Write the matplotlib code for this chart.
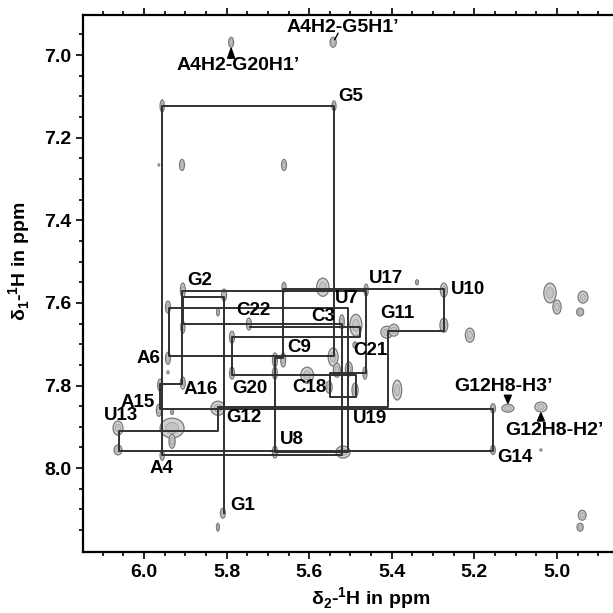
import matplotlib
matplotlib.use("Agg")
import matplotlib.pyplot as plt
from matplotlib.patches import Ellipse
from matplotlib.ticker import FixedLocator

plt.rcParams['font.family'] = ['Liberation Sans', 'DejaVu Sans']
plt.rcParams['font.weight'] = 'bold'
plt.rcParams['mathtext.fontset'] = 'custom'
plt.rcParams['mathtext.rm'] = 'Liberation Sans:bold'
plt.rcParams['mathtext.bf'] = 'Liberation Sans:bold'

# residue chemical shifts (H1' on x, H6/H8 on y), ppm
residues = ['G1', 'G2', 'C3', 'A4', 'G5', 'A6', 'U7', 'U8', 'C9', 'U10', 'G11',
            'G12', 'U13', 'G14', 'A15', 'A16', 'U17', 'C18', 'U19', 'G20', 'C21', 'C22']
h1p = [5.806, 5.906, 5.521, 5.956, 5.540, 5.939, 5.506, 5.683, 5.663, 5.274, 5.409,
       5.821, 6.061, 5.155, 5.961, 5.908, 5.462, 5.550, 5.487, 5.787, 5.477, 5.743]
h68 = [8.109, 7.586, 7.651, 7.969, 7.123, 7.729, 7.613, 7.961, 7.734, 7.567, 7.668,
       7.852, 7.910, 7.959, 7.857, 7.797, 7.571, 7.770, 7.828, 7.775, 7.683, 7.659]

# cross peaks: position and approximate extent (ppm)
peak_x = [5.789, 5.542, 5.956, 5.540, 5.908, 5.661, 5.964, 5.906, 5.806, 5.942, 5.821,
          5.746, 5.661, 5.567, 5.462, 5.339, 5.274, 5.017, 5.000, 4.937, 4.944, 5.274,
          5.412, 5.211, 5.465, 5.387, 5.155, 5.119, 5.039, 5.155, 5.039, 5.518, 4.939,
          4.944, 5.906, 5.787, 5.942, 5.942, 5.906, 5.787, 5.683, 5.663, 5.683, 5.605,
          5.961, 5.964, 5.932, 5.821, 6.063, 6.063, 5.932, 5.932, 5.956, 5.683, 5.809,
          5.821, 5.521, 5.487, 5.542, 5.533, 5.504, 5.552, 5.489, 5.489, 5.395]
peak_y = [6.969, 6.969, 7.123, 7.123, 7.266, 7.266, 7.266, 7.569, 7.581, 7.610, 7.622,
          7.651, 7.562, 7.562, 7.569, 7.550, 7.569, 7.576, 7.610, 7.586, 7.622, 7.654,
          7.671, 7.678, 7.770, 7.811, 7.855, 7.855, 7.852, 7.956, 7.956, 7.961, 8.114,
          8.143, 7.659, 7.683, 7.734, 7.768, 7.794, 7.770, 7.738, 7.738, 7.770, 7.775,
          7.799, 7.860, 7.864, 7.855, 7.903, 7.956, 7.903, 7.935, 7.969, 7.961, 8.109,
          8.143, 7.646, 7.654, 7.731, 7.763, 7.760, 7.804, 7.811, 7.702, 7.666]
peak_w = [0.012, 0.015, 0.010, 0.010, 0.012, 0.012, 0.004, 0.012, 0.012, 0.012, 0.007,
          0.012, 0.010, 0.030, 0.010, 0.007, 0.017, 0.030, 0.020, 0.024, 0.017, 0.019,
          0.029, 0.022, 0.010, 0.022, 0.012, 0.029, 0.029, 0.012, 0.005, 0.034, 0.019,
          0.015, 0.010, 0.012, 0.012, 0.005, 0.012, 0.012, 0.012, 0.012, 0.012, 0.031,
          0.012, 0.012, 0.007, 0.034, 0.024, 0.019, 0.058, 0.015, 0.010, 0.012, 0.012,
          0.007, 0.012, 0.029, 0.024, 0.017, 0.017, 0.015, 0.015, 0.010, 0.024]
peak_h = [0.024, 0.024, 0.029, 0.024, 0.027, 0.027, 0.005, 0.034, 0.029, 0.029, 0.019,
          0.029, 0.024, 0.044, 0.029, 0.012, 0.034, 0.048, 0.034, 0.029, 0.019, 0.034,
          0.029, 0.034, 0.029, 0.048, 0.022, 0.019, 0.024, 0.022, 0.005, 0.029, 0.024,
          0.019, 0.029, 0.029, 0.029, 0.007, 0.029, 0.029, 0.034, 0.034, 0.029, 0.039,
          0.029, 0.029, 0.012, 0.034, 0.034, 0.024, 0.048, 0.034, 0.024, 0.029, 0.024,
          0.019, 0.034, 0.053, 0.044, 0.034, 0.034, 0.029, 0.034, 0.015, 0.029]

# label offsets in pixels from each residue's intra peak
label_off = [(19, 8), (17, 17), (-19, 7), (-1, -13), (17, 9), (-21, -2), (-1, 10),
             (17, 13), (16, 11), (24, 0), (9, 18), (26, -10), (2, 15), (22, -6),
             (-22, 7), (19, -5), (20, 12), (-20, -14), (14, -21), (18, -13),
             (10, -13), (3, 17)]

# extra assignments: text, peak index, text offset, arrow tail offset, arrow head offset
notes = [("A4H2-G20H1\u2019", 0, (7, -23), (0, -16), (0, -6), 'wedge'),
         ("A4H2-G5H1\u2019", 1, (10, 15), (5, 9), (0, 3), 'line'),
         ("G12H8-H3\u2019", 27, (-4, 22), (0, 13), (0, 5), 'wedge'),
         ("G12H8-H2\u2019", 28, (14, -23), (0, -14), (0, -6), 'wedge')]

fig = plt.figure(figsize=(6.13, 6.13), dpi=100)
ax = fig.add_axes([83 / 613, 61 / 613, 576 / 613, 537 / 613])

for x, y, w, h in zip(peak_x, peak_y, peak_w, peak_h):
    ax.add_patch(Ellipse((x, y), w, h, facecolor='#d2d2d2', edgecolor='#7a7a7a',
                         lw=0.9, zorder=2))
    ax.add_patch(Ellipse((x, y), w * 0.55, h * 0.55, facecolor='#c4c4c4',
                         edgecolor='#9a9a9a', lw=0.5, zorder=2))

# sequential walk: H1'(i-1)/H8(i) -> H1'(i)/H8(i) -> H8(i+1)
wx = [h1p[0]]
wy = [h68[0]]
for i in range(1, len(residues)):
    wx += [h1p[i - 1], h1p[i]]
    wy += [h68[i], h68[i]]
ax.plot(wx, wy, color='#303030', lw=1.4, zorder=3)

for name, x, y, off in zip(residues, h1p, h68, label_off):
    ax.annotate(name, (x, y), xytext=off, textcoords='offset pixels',
                ha='center', va='center', fontsize=13.5, fontweight='bold', zorder=4)

for text, k, toff, tail, head, kind in notes:
    p = (peak_x[k], peak_y[k])
    ax.annotate(text, p, xytext=toff, textcoords='offset pixels',
                ha='center', va='center', fontsize=14, fontweight='bold', zorder=4)
    style = 'wedge,tail_width=0.5' if kind == 'wedge' else '-'
    ax.annotate('', xy=p, xytext=tail, textcoords='offset pixels',
                arrowprops=dict(arrowstyle=style, color='k', lw=1.0,
                                shrinkA=0, shrinkB=abs(head[1]) * 0.72),
                zorder=4)

ax.set_xlim(6.1477, 4.753)
ax.set_ylim(8.203, 6.903)
ax.xaxis.set_major_locator(FixedLocator([6.0, 5.8, 5.6, 5.4, 5.2, 5.0]))
ax.xaxis.set_minor_locator(FixedLocator([6.1, 6.05, 5.95, 5.9, 5.85, 5.75, 5.7, 5.65,
                                         5.55, 5.5, 5.45, 5.35, 5.3, 5.25, 5.15, 5.1,
                                         5.05, 4.95, 4.9, 4.85]))
ax.yaxis.set_major_locator(FixedLocator([7.0, 7.2, 7.4, 7.6, 7.8, 8.0]))
ax.yaxis.set_minor_locator(FixedLocator([6.95, 7.05, 7.1, 7.15, 7.25, 7.3, 7.35, 7.45,
                                         7.5, 7.55, 7.65, 7.7, 7.75, 7.85, 7.9, 7.95,
                                         8.05, 8.1, 8.15]))
ax.tick_params(which='both', direction='out', top=True, labeltop=False, width=1.2,
               labelsize=14)
ax.tick_params(which='major', length=5)
ax.tick_params(which='minor', length=3)
for lab in ax.get_xticklabels() + ax.get_yticklabels():
    lab.set_fontweight('bold')
for s in ['left', 'bottom', 'top']:
    ax.spines[s].set_linewidth(1.6)
ax.spines['right'].set_visible(False)

ax.set_xlabel(r'δ$_2$-$^1$H in ppm', fontsize=14, fontweight='bold')
ax.set_ylabel(r'δ$_1$-$^1$H in ppm', fontsize=14, fontweight='bold')
ax.xaxis.set_label_coords(0.5, -0.062)
ax.yaxis.set_label_coords(-0.087, 0.542)

fig.savefig('out.png', dpi=100)
